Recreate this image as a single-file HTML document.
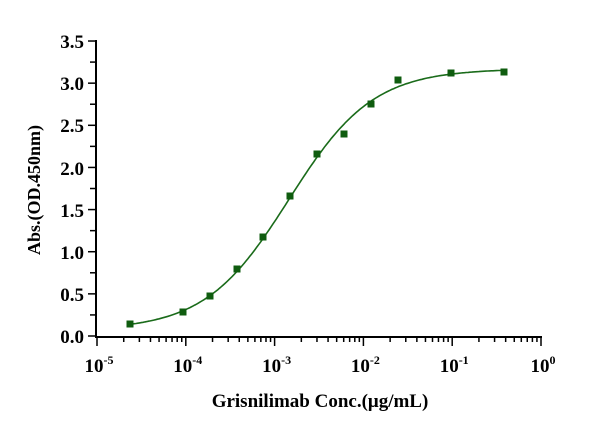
<!DOCTYPE html>
<html><head><meta charset="utf-8"><style>
body{margin:0;background:#fff;width:603px;height:432px;overflow:hidden}
svg text{font-family:"Liberation Serif",serif;font-weight:bold;fill:#000}
</style></head><body>
<svg id="s" width="603" height="432" xmlns="http://www.w3.org/2000/svg">
<g stroke="#000" stroke-width="2" fill="none">
<line x1="96" y1="40" x2="96" y2="338"/>
<line x1="95" y1="337" x2="542" y2="337"/>
</g>
<g id="ticks" stroke="#000" stroke-width="1.5"></g>
<g font-size="19" text-anchor="end">
<text x="84" y="48">3.5</text><text x="84" y="90">3.0</text><text x="84" y="132">2.5</text>
<text x="84" y="175">2.0</text><text x="84" y="217">1.5</text><text x="84" y="259">1.0</text>
<text x="84" y="301">0.5</text><text x="84" y="343">0.0</text>
</g>
<g id="xl" font-size="19" text-anchor="middle"></g>
<text x="0" y="0" font-size="18" text-anchor="middle" transform="translate(40,190) rotate(-90)">Abs.(OD.450nm)</text>
<text x="320" y="407" font-size="19" text-anchor="middle">Grisnilimab Conc.(μg/mL)</text>
<path id="curve" fill="none" stroke="#1a6b1a" stroke-width="1.6"/>
<g id="pts" fill="#0f5c0f"></g>
</svg>
<script>
function X(l){return 97+(l+5)*88.8}
function Y(v){return 336-v*84.3}
var t=document.getElementById("ticks"),h="";
for(var i=0;i<=14;i++){var y=336-i*21.07;h+='<line x1="'+(i%2?90:88)+'" y1="'+y+'" x2="96" y2="'+y+'"/>';}
for(var d=-5;d<=0;d++){var x=X(d);h+='<line x1="'+x+'" y1="337" x2="'+x+'" y2="346"/>';
 if(d<0)for(var m=2;m<=9;m++){var xx=X(d+Math.log10(m));h+='<line x1="'+xx+'" y1="337" x2="'+xx+'" y2="342"/>';}}
t.innerHTML=h;
var xl="";for(var d=-5;d<=0;d++){xl+='<text x="'+(X(d)+2)+'" y="372">10<tspan font-size="12" dy="-8">'+d+'</tspan></text>';}
document.getElementById("xl").innerHTML=xl;
var A=0.07,D=3.17,C=Math.log10(1.45e-3),B=0.92,p="";
for(var l=-4.62;l<=-0.4;l+=0.02){var v=A+(D-A)/(1+Math.pow(10,B*(C-l)));p+=(p?"L":"M")+X(l).toFixed(1)+","+Y(v).toFixed(1);}
document.getElementById("curve").setAttribute("d",p);
var P=[[130,324],[183,312],[210,296],[237,269],[263,237],[290,196],[317,154],[344,134],[371,104],[398,80],[451,73],[504,72]],q="";
P.forEach(function(a){q+='<rect x="'+(a[0]-3.5)+'" y="'+(a[1]-3.5)+'" width="7" height="7"/>';});
document.getElementById("pts").innerHTML=q;
</script>
</body></html>
